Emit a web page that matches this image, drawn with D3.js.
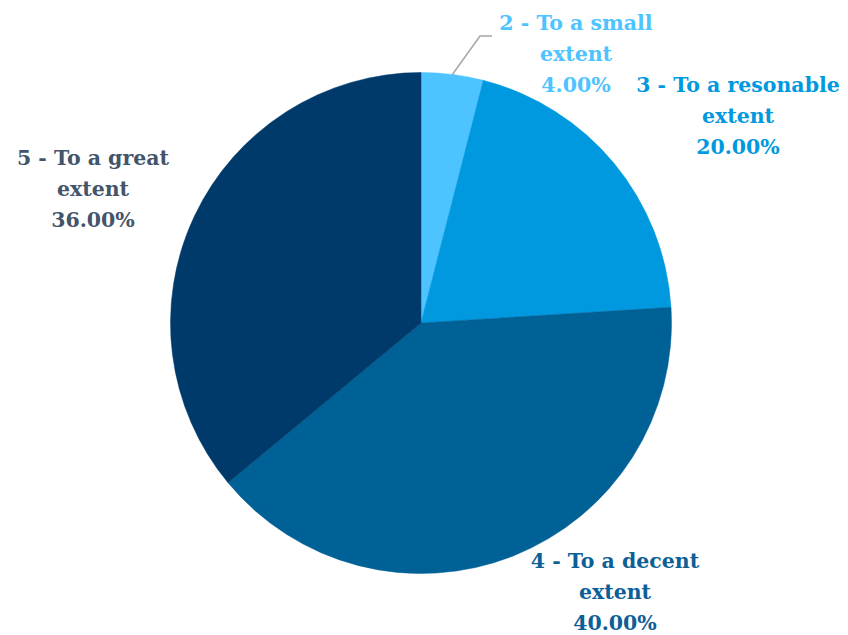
<!DOCTYPE html>
<html>
<head>
<meta charset="utf-8">
<script src="https://cdn.jsdelivr.net/npm/d3@7"></script>
<style>
  html, body { margin: 0; padding: 0; background: #ffffff; }
  svg { display: block; }
  text { font-family: "DejaVu Serif", serif; font-weight: bold; }
</style>
</head>
<body>
<svg id="chart" width="848" height="635"></svg>
<script>
// Survey responses: extent of agreement
const categories = ["2 - To a small extent", "3 - To a resonable extent", "4 - To a decent extent", "5 - To a great extent"];
const labelLines = [
  ["2 - To a small", "extent"],
  ["3 - To a resonable", "extent"],
  ["4 - To a decent", "extent"],
  ["5 - To a great", "extent"]
];
const shares = [4.00, 20.00, 40.00, 36.00];
const sliceColors = ["#4dc3ff", "#0099e0", "#006196", "#003a6b"];
const labelColors = ["#4dc3ff", "#0099e0", "#0d6096", "#44546a"];

const width = 848, height = 635;
const cx = 421, cy = 323, radius = 250.5;

const svg = d3.select("#chart");
const g = svg.append("g").attr("transform", `translate(${cx},${cy})`);

const pie = d3.pie().sort(null).value(d => d);
const arcs = pie(shares);
const arc = d3.arc().innerRadius(0).outerRadius(radius);

g.selectAll("path.slice")
  .data(arcs)
  .join("path")
  .attr("class", "slice")
  .attr("d", arc)
  .attr("fill", (d, i) => sliceColors[i])
  .attr("stroke", (d, i) => sliceColors[i])
  .attr("stroke-width", 0.5);

// Label anchor points (centre of each text block, first baseline)
const labelPos = [
  { x: 576, y: 30 },
  { x: 738, y: 92 },
  { x: 615, y: 568 },
  { x: 93, y: 165 }
];
const lineGap = 31;

const labels = svg.selectAll("text.label")
  .data(arcs)
  .join("text")
  .attr("class", "label")
  .attr("text-anchor", "middle")
  .attr("font-size", 20.5)
  .attr("fill", (d, i) => labelColors[i]);

labels.each(function (d, i) {
  const t = d3.select(this);
  const lines = labelLines[i].concat([shares[i].toFixed(2) + "%"]);
  lines.forEach((ln, k) => {
    t.append("tspan")
      .attr("x", labelPos[i].x)
      .attr("y", labelPos[i].y + k * lineGap)
      .text(ln);
  });
});

// Leader line for the small slice
const small = arcs[0];
const mid = (small.startAngle + small.endAngle) / 2;
const p0 = [cx + radius * Math.sin(mid), cy - radius * Math.cos(mid)];
const elbow = [480, 36];
const end = [492, 36];
svg.append("polyline")
  .attr("points", [p0, elbow, end].map(p => p.join(",")).join(" "))
  .attr("fill", "none")
  .attr("stroke", "#a6a6a6")
  .attr("stroke-width", 1.5);
</script>
</body>
</html>
